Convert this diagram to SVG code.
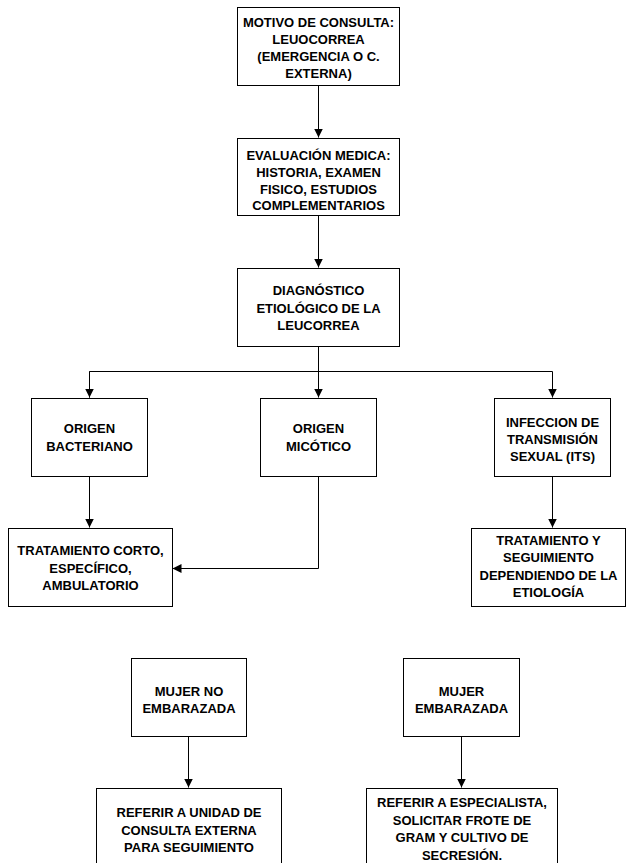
<svg xmlns="http://www.w3.org/2000/svg" width="627" height="863" viewBox="0 0 627 863">
<style>
.box{fill:#fff;stroke:#000;stroke-width:1}
.t{font-family:"Liberation Sans",Arial,sans-serif;font-weight:bold;font-size:13px;fill:#000;text-anchor:middle}
.c{fill:none;stroke:#000;stroke-width:1}
</style>
<defs>
<marker id="ah" viewBox="0 0 10 10" refX="10" refY="5" markerWidth="9" markerHeight="9" markerUnits="userSpaceOnUse" orient="auto">
<path d="M0,0 L10,5 L0,10 z" fill="#000"/>
</marker>
</defs>
<rect width="627" height="863" fill="#fff"/>
<g id="connectors">
<path class="c" d="M318.5,85 V137.5" marker-end="url(#ah)"/>
<path class="c" d="M318.5,215 V267.5" marker-end="url(#ah)"/>
<path class="c" d="M318.5,346 V397.5" marker-end="url(#ah)"/>
<path class="c" d="M89.5,397.5 V371.5 H552.5 V397.5" marker-end="url(#ah)"/>
<path class="c" d="M89.5,371.5 V397.5" marker-end="url(#ah)"/>
<path class="c" d="M89.5,476 V527.5" marker-end="url(#ah)"/>
<path class="c" d="M318.5,476 V568.5 H172.5" marker-end="url(#ah)"/>
<path class="c" d="M552.5,476 V527.5" marker-end="url(#ah)"/>
<path class="c" d="M188.5,736 V787.5" marker-end="url(#ah)"/>
<path class="c" d="M461.5,736 V787.5" marker-end="url(#ah)"/>
</g>
<g id="n1"><rect class="box" x="237.5" y="7.5" width="162" height="78"/>
<text class="t" x="318.5" y="27">MOTIVO DE CONSULTA:</text>
<text class="t" x="318.5" y="44">LEUOCORREA</text>
<text class="t" x="318.5" y="61">(EMERGENCIA O C.</text>
<text class="t" x="318.5" y="78">EXTERNA)</text></g>
<g id="n2"><rect class="box" x="237.5" y="138.5" width="162" height="77"/>
<text class="t" x="318.5" y="160">EVALUACIÓN MEDICA:</text>
<text class="t" x="318.5" y="177">HISTORIA, EXAMEN</text>
<text class="t" x="318.5" y="193.5">FISICO, ESTUDIOS</text>
<text class="t" x="318.5" y="210">COMPLEMENTARIOS</text></g>
<g id="n3"><rect class="box" x="237.5" y="268.5" width="162" height="78"/>
<text class="t" x="318.5" y="295">DIAGNÓSTICO</text>
<text class="t" x="318.5" y="312.5">ETIOLÓGICO DE LA</text>
<text class="t" x="318.5" y="330">LEUCORREA</text></g>
<g id="n4"><rect class="box" x="31.5" y="398.5" width="116" height="78"/>
<text class="t" x="89.5" y="433">ORIGEN</text>
<text class="t" x="89.5" y="450.5">BACTERIANO</text></g>
<g id="n5"><rect class="box" x="260.5" y="398.5" width="116" height="78"/>
<text class="t" x="318.5" y="433">ORIGEN</text>
<text class="t" x="318.5" y="450.5">MICÓTICO</text></g>
<g id="n6"><rect class="box" x="494.5" y="398.5" width="116" height="78"/>
<text class="t" x="552.5" y="427">INFECCION DE</text>
<text class="t" x="552.5" y="444">TRANSMISIÓN</text>
<text class="t" x="552.5" y="461">SEXUAL (ITS)</text></g>
<g id="n7"><rect class="box" x="8.5" y="528.5" width="164" height="78"/>
<text class="t" x="90.5" y="555">TRATAMIENTO CORTO,</text>
<text class="t" x="90.5" y="572.5">ESPECÍFICO,</text>
<text class="t" x="90.5" y="590">AMBULATORIO</text></g>
<g id="n8"><rect class="box" x="471.5" y="528.5" width="154" height="78"/>
<text class="t" x="548.5" y="545">TRATAMIENTO Y</text>
<text class="t" x="548.5" y="562">SEGUIMIENTO</text>
<text class="t" x="548.5" y="580">DEPENDIENDO DE LA</text>
<text class="t" x="548.5" y="597">ETIOLOGÍA</text></g>
<g id="n9"><rect class="box" x="131.5" y="658.5" width="115" height="78"/>
<text class="t" x="189" y="696">MUJER NO</text>
<text class="t" x="189" y="713">EMBARAZADA</text></g>
<g id="n10"><rect class="box" x="403.5" y="658.5" width="116" height="78"/>
<text class="t" x="461.5" y="696">MUJER</text>
<text class="t" x="461.5" y="713">EMBARAZADA</text></g>
<g id="n11"><rect class="box" x="96.5" y="788.5" width="185" height="90"/>
<text class="t" x="189" y="817">REFERIR A UNIDAD DE</text>
<text class="t" x="189" y="834.5">CONSULTA EXTERNA</text>
<text class="t" x="189" y="852">PARA SEGUIMIENTO</text></g>
<g id="n12"><rect class="box" x="366.5" y="788.5" width="191" height="90"/>
<text class="t" x="462" y="807">REFERIR A ESPECIALISTA,</text>
<text class="t" x="462" y="824.7">SOLICITAR FROTE DE</text>
<text class="t" x="462" y="842.4">GRAM Y CULTIVO DE</text>
<text class="t" x="462" y="860">SECRESIÓN.</text></g>
</svg>
